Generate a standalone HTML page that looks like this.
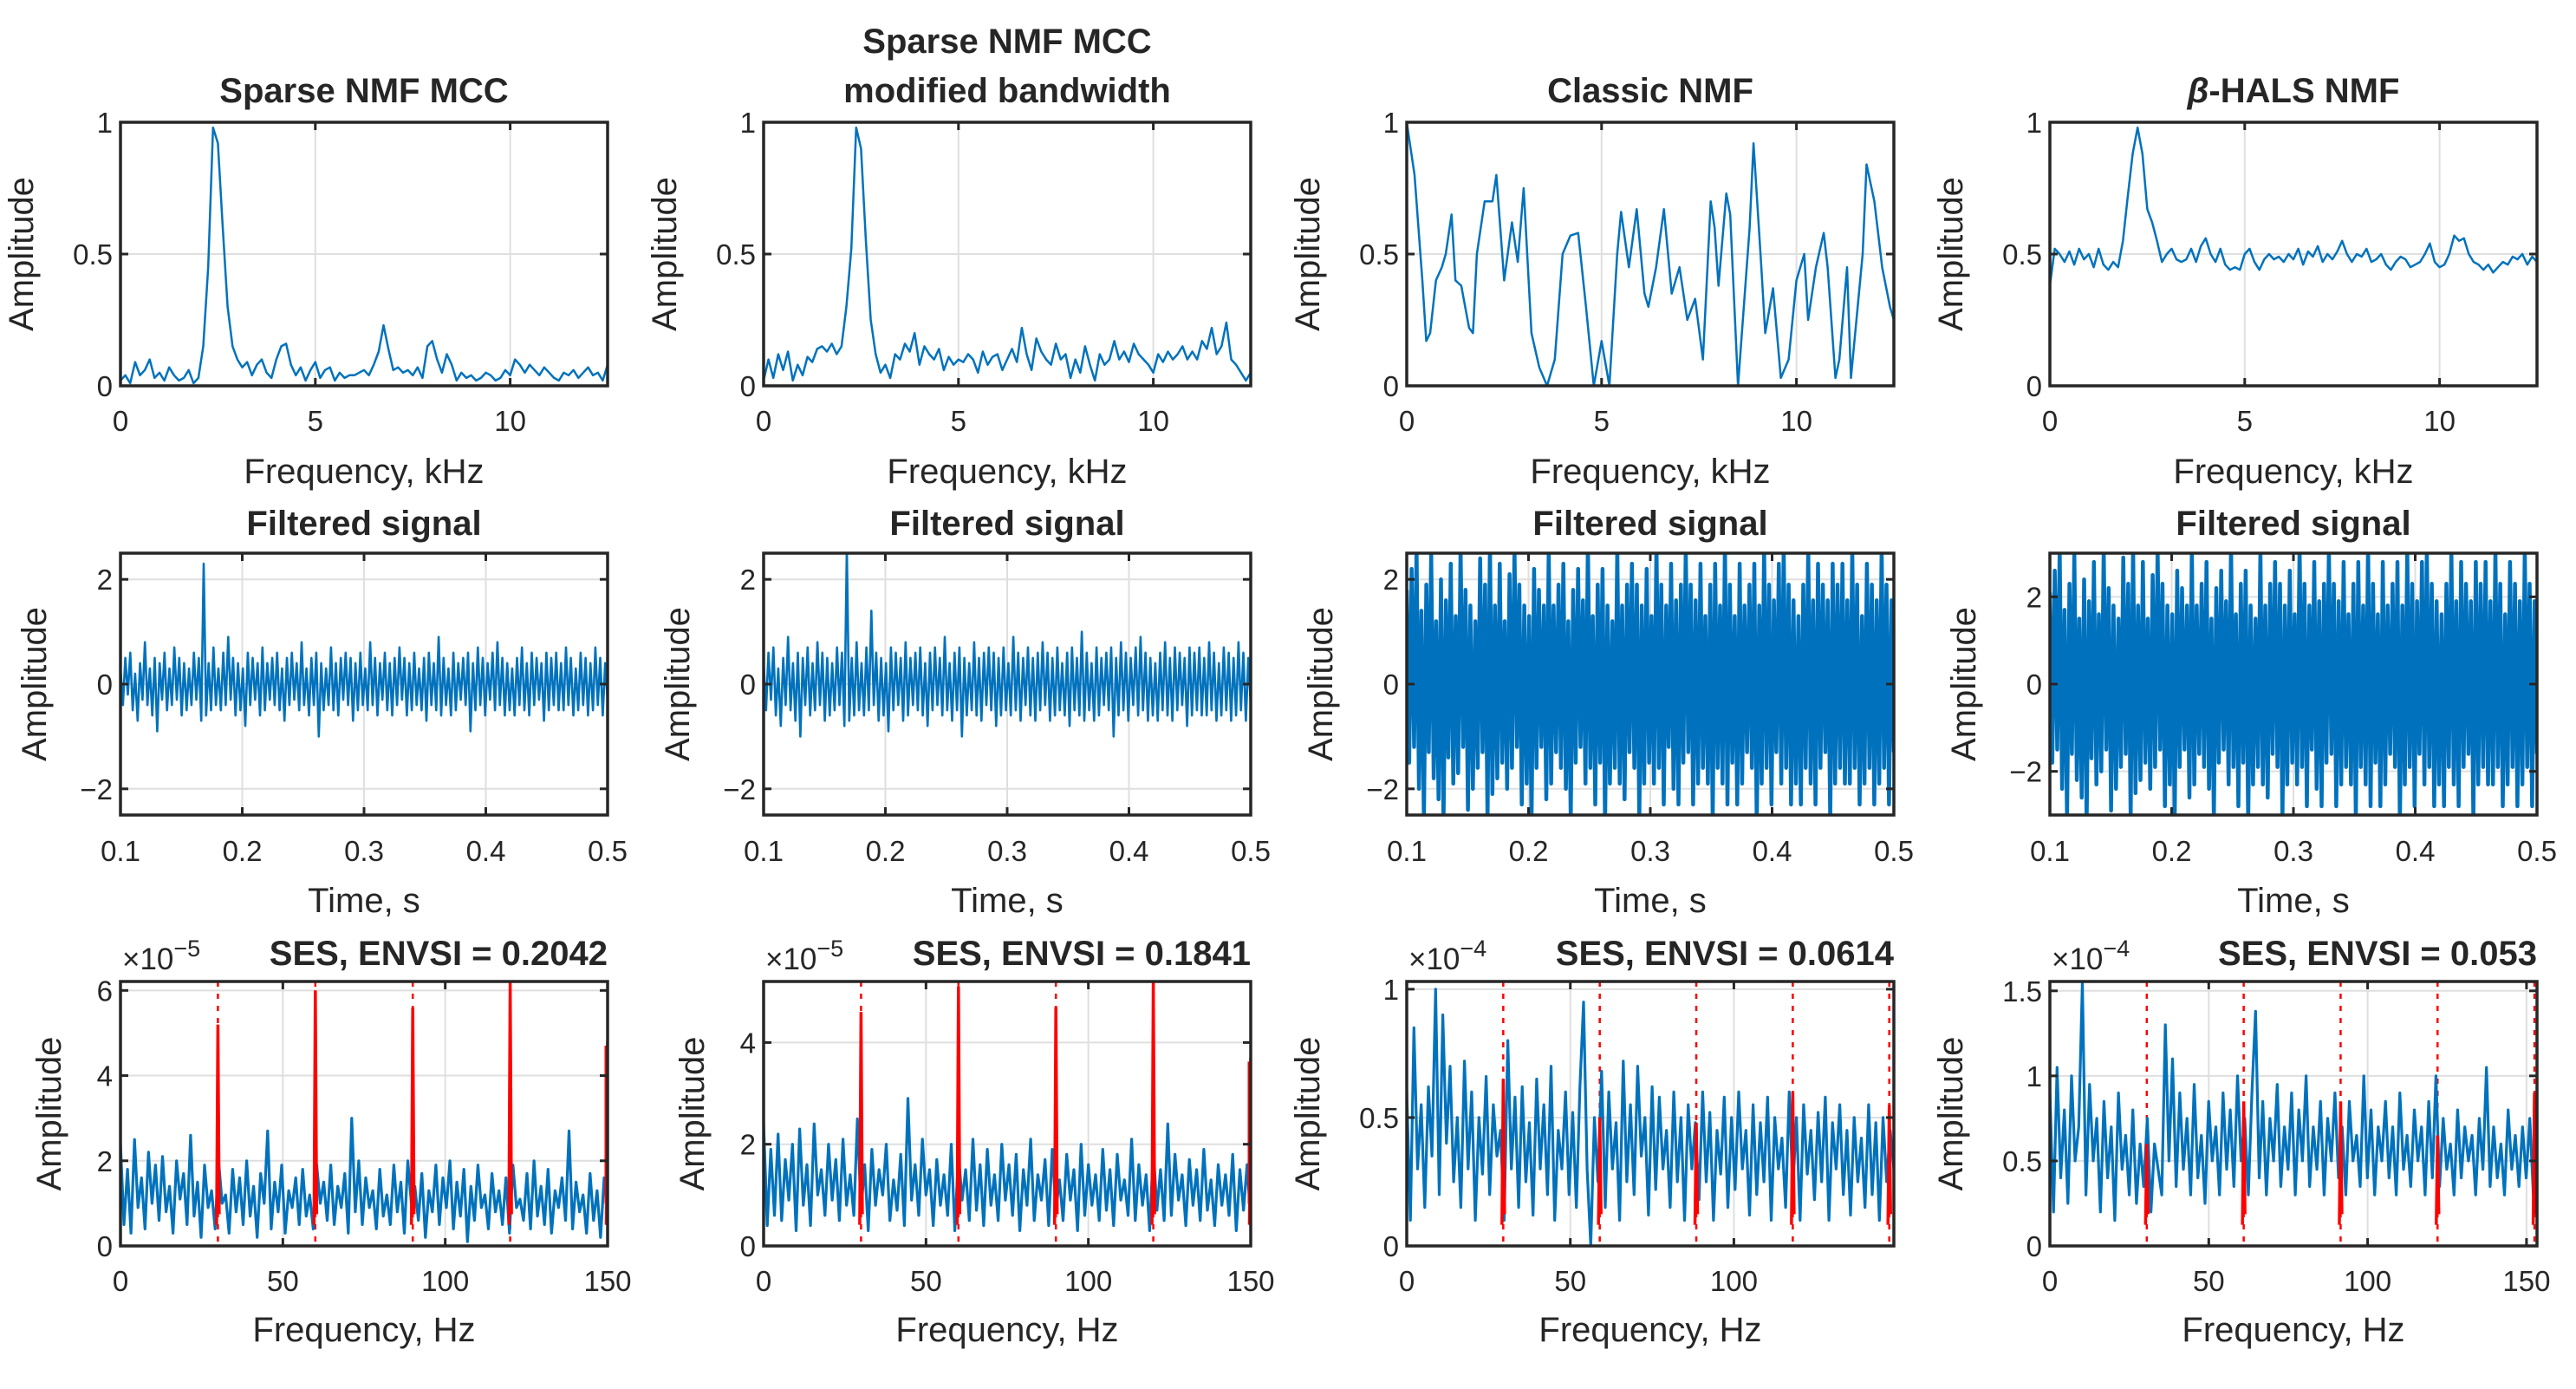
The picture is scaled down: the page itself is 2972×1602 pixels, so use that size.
<!DOCTYPE html>
<html><head><meta charset="utf-8"><style>
html,body{margin:0;padding:0;background:#fff}
svg{display:block}
text{font-family:"Liberation Sans",sans-serif;fill:#262626}
</style></head><body>
<svg id="fig" width="2972" height="1602" viewBox="0 0 2972 1602" xmlns="http://www.w3.org/2000/svg"></svg>
<script>
// ---------- DATA ----------
const spec1=[0.02,0.04,0.01,0.09,0.04,0.06,0.1,0.03,0.05,0.02,0.07,0.04,0.02,0.03,0.06,0.01,0.03,0.15,0.45,0.98,0.92,0.6,0.3,0.15,0.1,0.07,0.09,0.04,0.08,0.1,0.05,0.03,0.1,0.15,0.16,0.08,0.04,0.07,0.02,0.06,0.09,0.03,0.06,0.07,0.02,0.05,0.03,0.04,0.04,0.05,0.06,0.04,0.08,0.13,0.23,0.14,0.06,0.07,0.05,0.06,0.04,0.07,0.03,0.15,0.17,0.1,0.05,0.12,0.08,0.02,0.05,0.03,0.04,0.02,0.03,0.05,0.04,0.02,0.03,0.06,0.04,0.1,0.08,0.05,0.08,0.06,0.04,0.07,0.05,0.03,0.02,0.05,0.04,0.06,0.03,0.05,0.07,0.04,0.05,0.02,0.08];
const spec2=[0.02,0.1,0.03,0.12,0.06,0.13,0.02,0.08,0.04,0.11,0.09,0.14,0.15,0.13,0.16,0.12,0.15,0.3,0.52,0.98,0.9,0.55,0.25,0.12,0.05,0.08,0.03,0.12,0.1,0.16,0.13,0.2,0.08,0.15,0.12,0.1,0.14,0.06,0.11,0.08,0.1,0.09,0.12,0.1,0.05,0.13,0.08,0.11,0.12,0.06,0.1,0.14,0.09,0.22,0.12,0.06,0.18,0.13,0.1,0.08,0.16,0.1,0.12,0.03,0.1,0.05,0.15,0.08,0.02,0.12,0.08,0.1,0.17,0.1,0.13,0.09,0.16,0.12,0.1,0.08,0.05,0.12,0.09,0.13,0.1,0.12,0.15,0.1,0.13,0.1,0.17,0.14,0.22,0.12,0.15,0.24,0.1,0.08,0.05,0.02,0.05];
const classicFreq=[0,0.2,0.4,0.5,0.6,0.75,0.9,1.0,1.15,1.25,1.4,1.6,1.7,1.8,2.0,2.2,2.3,2.5,2.7,2.85,3.0,3.2,3.4,3.6,3.8,4.0,4.2,4.4,4.6,4.8,5.0,5.2,5.4,5.5,5.7,5.9,6.1,6.2,6.4,6.6,6.8,7.0,7.2,7.4,7.6,7.8,7.9,8.0,8.2,8.3,8.5,8.8,8.9,9.1,9.2,9.4,9.6,9.8,10.0,10.2,10.3,10.5,10.7,10.8,11.0,11.1,11.3,11.4,11.7,11.8,12.0,12.2,12.4,12.5];
const classicAmp=[1.0,0.8,0.4,0.17,0.2,0.4,0.45,0.5,0.65,0.4,0.38,0.22,0.2,0.5,0.7,0.7,0.8,0.4,0.62,0.47,0.75,0.2,0.07,0.0,0.1,0.5,0.57,0.58,0.3,0.0,0.17,0.0,0.5,0.66,0.45,0.67,0.35,0.3,0.45,0.67,0.35,0.45,0.25,0.33,0.1,0.7,0.6,0.38,0.73,0.65,0.0,0.6,0.92,0.45,0.2,0.37,0.03,0.1,0.4,0.5,0.25,0.45,0.58,0.45,0.03,0.1,0.45,0.03,0.5,0.84,0.7,0.45,0.3,0.25];
const spec4=[0.38,0.52,0.5,0.47,0.51,0.46,0.52,0.48,0.5,0.45,0.52,0.46,0.44,0.47,0.45,0.55,0.72,0.88,0.98,0.88,0.67,0.62,0.55,0.47,0.5,0.52,0.48,0.47,0.48,0.52,0.47,0.53,0.56,0.5,0.47,0.52,0.46,0.44,0.45,0.44,0.5,0.52,0.47,0.44,0.48,0.5,0.48,0.49,0.47,0.5,0.48,0.52,0.46,0.51,0.49,0.53,0.47,0.5,0.48,0.51,0.55,0.5,0.47,0.5,0.49,0.52,0.47,0.48,0.5,0.46,0.44,0.47,0.49,0.48,0.45,0.46,0.47,0.5,0.54,0.47,0.45,0.46,0.5,0.57,0.55,0.56,0.5,0.47,0.46,0.44,0.46,0.43,0.45,0.47,0.46,0.49,0.48,0.5,0.46,0.49,0.47];

const filt1=[0.3,-0.4,0.5,-0.2,0.6,-0.5,0.2,-0.7,0.4,-0.3,0.8,-0.4,0.3,-0.6,0.5,-0.9,0.4,-0.3,0.6,-0.5,0.3,-0.4,0.7,-0.3,0.5,-0.6,0.4,-0.5,0.3,-0.4,0.6,-0.3,0.5,-0.7,2.3,-0.6,0.4,-0.5,0.7,-0.4,0.3,-0.5,0.6,-0.4,0.9,-0.3,0.5,-0.6,0.4,-0.5,0.3,-0.8,0.6,-0.4,0.5,-0.3,0.4,-0.6,0.7,-0.5,0.4,-0.3,0.5,-0.4,0.6,-0.5,0.3,-0.7,0.5,-0.4,0.6,-0.3,0.4,-0.5,0.8,-0.4,0.3,-0.6,0.5,-0.4,0.6,-1.0,0.4,-0.5,0.3,-0.4,0.7,-0.5,0.4,-0.6,0.5,-0.3,0.6,-0.4,0.5,-0.7,0.4,-0.5,0.6,-0.4,0.3,-0.5,0.8,-0.4,0.5,-0.6,0.4,-0.3,0.6,-0.5,0.4,-0.6,0.5,-0.4,0.7,-0.3,0.5,-0.6,0.4,-0.5,0.6,-0.4,0.3,-0.5,0.5,-0.7,0.6,-0.4,0.4,-0.5,0.9,-0.6,0.5,-0.4,0.3,-0.6,0.6,-0.5,0.4,-0.3,0.5,-0.4,0.6,-0.9,0.4,-0.5,0.7,-0.4,0.5,-0.6,0.4,-0.3,0.6,-0.5,0.8,-0.4,0.5,-0.6,0.4,-0.5,0.3,-0.6,0.5,-0.4,0.7,-0.5,0.4,-0.6,0.6,-0.4,0.5,-0.3,0.4,-0.7,0.6,-0.5,0.5,-0.4,0.6,-0.5,0.4,-0.5,0.7,-0.4,0.5,-0.6,0.3,-0.5,0.6,-0.4,0.5,-0.6,0.4,-0.5,0.7,-0.4,0.5,-0.6,0.4,-0.3];
const filt2=[0.4,-0.5,0.6,-0.3,0.7,-0.6,0.3,-0.8,0.5,-0.4,0.9,-0.5,0.4,-0.7,0.6,-1.0,0.5,-0.4,0.7,-0.6,0.4,-0.5,0.8,-0.4,0.6,-0.7,0.5,-0.6,0.4,-0.5,0.7,-0.4,0.6,-0.8,2.6,-0.7,0.5,-0.6,0.8,-0.5,0.4,-0.6,0.7,-0.5,1.4,-0.4,0.6,-0.7,0.5,-0.6,0.4,-0.9,0.7,-0.5,0.6,-0.4,0.5,-0.7,0.8,-0.6,0.5,-0.4,0.6,-0.5,0.7,-0.6,0.4,-0.8,0.6,-0.5,0.7,-0.4,0.5,-0.6,0.9,-0.5,0.4,-0.7,0.6,-0.5,0.7,-1.0,0.5,-0.6,0.4,-0.5,0.8,-0.6,0.5,-0.7,0.6,-0.4,0.7,-0.5,0.6,-0.8,0.5,-0.6,0.7,-0.5,0.4,-0.6,0.9,-0.5,0.6,-0.7,0.5,-0.4,0.7,-0.6,0.5,-0.7,0.6,-0.5,0.8,-0.4,0.6,-0.7,0.5,-0.6,0.7,-0.5,0.4,-0.6,0.6,-0.8,0.7,-0.5,0.5,-0.6,1.0,-0.7,0.6,-0.5,0.4,-0.7,0.7,-0.6,0.5,-0.4,0.6,-0.5,0.7,-1.0,0.5,-0.6,0.8,-0.5,0.6,-0.7,0.5,-0.4,0.7,-0.6,0.9,-0.5,0.6,-0.7,0.5,-0.6,0.4,-0.7,0.6,-0.5,0.8,-0.6,0.5,-0.7,0.7,-0.5,0.6,-0.4,0.5,-0.8,0.7,-0.6,0.6,-0.5,0.7,-0.6,0.5,-0.6,0.8,-0.5,0.6,-0.7,0.4,-0.6,0.7,-0.5,0.6,-0.7,0.5,-0.6,0.8,-0.5,0.6,-0.7,0.5,-0.4];
const filt3=[1.8,-1.5,2.2,-1.2,2.6,-2.0,1.4,-2.6,1.9,-1.3,2.5,-1.8,1.2,-2.2,2.0,-2.7,1.6,-1.4,2.3,-1.9,1.3,-1.7,2.6,-1.2,1.8,-2.4,1.5,-2.0,1.2,-1.6,2.4,-1.3,1.9,-2.6,2.7,-2.1,1.5,-1.8,2.3,-1.5,1.2,-2.0,2.1,-1.6,2.6,-1.2,1.9,-2.3,1.5,-1.9,1.3,-2.6,2.2,-1.6,1.8,-1.2,1.5,-2.2,2.6,-1.9,1.5,-1.3,1.9,-1.6,2.3,-2.0,1.2,-2.6,1.8,-1.5,2.2,-1.2,1.6,-1.9,2.7,-1.6,1.3,-2.3,1.9,-1.5,2.2,-2.7,1.5,-1.9,1.2,-1.6,2.6,-1.9,1.5,-2.2,1.9,-1.3,2.3,-1.6,1.9,-2.6,1.5,-1.9,2.2,-1.5,1.3,-1.9,2.7,-1.6,1.9,-2.3,1.5,-1.2,2.3,-2.0,1.6,-2.3,1.9,-1.5,2.6,-1.3,1.9,-2.3,1.6,-1.9,2.3,-1.6,1.3,-1.9,1.9,-2.6,2.3,-1.6,1.5,-1.9,2.7,-2.3,1.9,-1.5,1.3,-2.3,2.3,-1.9,1.5,-1.3,1.9,-1.6,2.3,-2.7,1.5,-1.9,2.6,-1.6,1.9,-2.3,1.6,-1.3,2.3,-1.9,2.6,-1.6,1.9,-2.3,1.6,-1.9,1.3,-2.3,1.9,-1.6,2.6,-1.9,1.6,-2.3,2.3,-1.6,1.9,-1.3,1.6,-2.6,2.3,-1.9,1.9,-1.6,2.3,-1.9,1.6,-1.9,2.6,-1.6,1.9,-2.3,1.3,-1.9,2.3,-1.6,1.9,-2.3,1.6,-1.9,2.6,-1.6,1.9,-2.3,1.6,-1.3];
const filt4=[2.1,-1.8,2.6,-1.5,3.1,-2.4,1.7,-3.1,2.3,-1.6,3.0,-2.2,1.5,-2.6,2.4,-3.2,1.9,-1.7,2.8,-2.3,1.6,-2.0,3.1,-1.5,2.2,-2.9,1.8,-2.4,1.5,-1.9,2.9,-1.6,2.3,-3.1,3.2,-2.5,1.8,-2.2,2.8,-1.8,1.5,-2.4,2.5,-1.9,3.1,-1.5,2.3,-2.8,1.8,-2.3,1.6,-3.1,2.6,-1.9,2.2,-1.5,1.8,-2.6,3.1,-2.3,1.8,-1.6,2.3,-1.9,2.8,-2.4,1.5,-3.1,2.2,-1.8,2.6,-1.5,1.9,-2.3,3.2,-1.9,1.6,-2.8,2.3,-1.8,2.6,-3.2,1.8,-2.3,1.5,-1.9,3.1,-2.3,1.8,-2.6,2.3,-1.6,2.8,-1.9,2.3,-3.1,1.8,-2.3,2.6,-1.8,1.6,-2.3,3.2,-1.9,2.3,-2.8,1.8,-1.5,2.8,-2.4,1.9,-2.8,2.3,-1.8,3.1,-1.6,2.3,-2.8,1.9,-2.3,2.8,-1.9,1.6,-2.3,2.3,-3.1,2.8,-1.9,1.8,-2.3,3.2,-2.8,2.3,-1.8,1.6,-2.8,2.8,-2.3,1.8,-1.6,2.3,-1.9,2.8,-3.2,1.8,-2.3,3.1,-1.9,2.3,-2.8,1.9,-1.6,2.8,-2.3,3.1,-1.9,2.3,-2.8,1.9,-2.3,1.6,-2.8,2.3,-1.9,3.1,-2.3,1.9,-2.8,2.8,-1.9,2.3,-1.6,1.9,-3.1,2.8,-2.3,2.3,-1.9,2.8,-2.3,1.9,-2.3,3.1,-1.9,2.3,-2.8,1.6,-2.3,2.8,-1.9,2.3,-2.8,1.9,-2.3,3.1,-1.9,2.3,-2.8,1.9,-1.6];

const ses1=[2.4,0.5,1.8,0.3,2.5,0.9,1.6,0.4,2.2,1.0,1.9,0.6,2.1,0.8,1.4,0.3,2.0,1.1,1.7,0.5,2.6,0.7,1.5,0.2,1.9,0.9,1.3,0.4,2.0,1.0,1.2,0.3,1.8,0.8,1.6,0.5,2.0,0.7,1.4,0.2,1.7,1.0,2.7,0.4,1.5,0.8,1.9,0.3,1.3,0.9,1.6,0.5,1.8,0.7,1.2,0.4,1.9,1.0,1.5,0.6,1.9,0.5,1.4,0.9,1.7,0.3,3.0,0.8,2.0,0.5,1.6,0.9,1.3,0.4,1.8,0.7,1.2,0.5,1.9,0.8,1.5,0.3,2.0,1.0,1.4,0.6,1.7,0.2,1.3,0.8,1.9,0.5,1.6,0.9,2.0,0.4,1.5,0.7,1.8,0.1,1.4,0.6,1.9,0.9,1.2,0.4,1.7,0.8,1.3,0.5,1.6,0.3,1.9,0.9,1.1,0.6,1.7,0.4,2.0,0.7,1.4,0.5,1.8,0.3,1.3,0.9,1.6,0.6,2.7,0.4,1.5,0.8,1.2,0.3,1.7,0.6,1.3,0.2,1.6,0.9];
const ses2=[2.4,0.4,1.9,0.6,2.2,0.5,1.7,0.9,2.0,0.3,2.3,0.8,1.6,0.4,2.4,1.0,1.5,0.6,2.0,0.9,1.7,0.5,2.1,0.8,1.4,0.6,2.5,0.7,1.6,0.3,1.9,0.8,1.5,1.0,2.0,0.5,1.3,0.7,1.8,0.4,2.9,0.9,1.6,0.6,2.1,1.0,1.5,0.4,1.7,0.8,1.4,0.6,2.0,0.3,1.8,0.9,1.5,0.5,2.1,0.7,1.6,0.4,1.9,0.8,1.4,0.5,2.0,0.9,1.6,0.6,1.8,0.3,1.5,0.8,2.1,0.5,1.4,0.9,1.7,0.4,1.9,0.7,1.3,0.5,1.8,0.9,1.5,0.3,2.0,0.6,1.6,0.8,1.4,0.5,1.9,0.7,1.5,0.4,1.8,0.9,1.3,0.6,2.1,0.5,1.6,0.8,1.4,0.3,1.9,0.7,1.5,0.5,2.4,0.6,1.8,0.9,1.4,0.4,1.7,0.8,1.5,0.5,1.9,0.7,1.3,0.4,1.6,0.8,1.4,0.6,1.8,0.3,1.5,0.7,1.6,0.5];
const ses3=[0.6,0.1,0.85,0.3,0.55,0.15,0.62,0.35,1.0,0.2,0.9,0.4,0.7,0.25,0.5,0.15,0.72,0.3,0.6,0.1,0.5,0.28,0.66,0.2,0.55,0.35,0.45,0.1,0.8,0.3,0.58,0.15,0.62,0.25,0.48,0.12,0.65,0.3,0.55,0.2,0.7,0.1,0.45,0.3,0.6,0.2,0.52,0.15,0.62,0.95,0.3,0.0,0.5,0.25,0.68,0.15,0.6,0.3,0.48,0.1,0.72,0.25,0.55,0.2,0.7,0.35,0.5,0.12,0.62,0.22,0.58,0.3,0.45,0.15,0.6,0.25,0.5,0.1,0.55,0.3,0.48,0.18,0.6,0.25,0.52,0.1,0.45,0.28,0.58,0.15,0.5,0.22,0.6,0.3,0.45,0.12,0.55,0.2,0.48,0.25,0.58,0.1,0.5,0.3,0.42,0.15,0.6,0.22,0.5,0.1,0.55,0.28,0.45,0.18,0.52,0.25,0.58,0.1,0.48,0.3,0.55,0.2,0.45,0.12,0.5,0.25,0.42,0.15,0.55,0.2,0.48,0.1,0.5,0.25,0.45,0.3];
const ses4=[0.9,0.2,1.05,0.4,0.8,0.25,1.0,0.5,0.7,1.55,0.3,0.95,0.5,0.75,0.2,0.85,0.4,0.7,0.15,0.9,0.45,0.65,0.3,0.8,0.25,0.6,0.35,0.75,0.2,0.6,0.45,0.3,1.3,0.5,1.1,0.35,0.9,0.45,0.75,0.3,0.95,0.4,0.65,0.25,0.85,0.5,0.7,0.3,0.9,0.45,0.8,0.35,1.0,0.5,0.75,0.3,0.9,1.38,0.4,0.85,0.3,0.75,0.5,0.95,0.35,0.7,0.45,0.9,0.3,0.8,0.5,1.0,0.35,0.7,0.45,0.85,0.3,0.75,0.5,0.9,0.4,0.7,0.3,0.85,0.5,0.65,0.35,1.0,0.4,0.8,0.3,0.7,0.5,0.85,0.4,0.7,0.3,0.9,0.45,0.65,0.35,0.8,0.5,0.7,0.3,0.85,0.4,1.0,0.35,0.75,0.45,0.6,0.3,0.8,0.4,0.7,0.5,0.65,0.3,0.75,0.45,1.05,0.35,0.7,0.4,0.6,0.3,0.8,0.45,0.65,0.35,0.7,0.4,0.75,0.3,0.9];

const harm1Freq=[30,60,90,120,150], harm1Amp=[5.2,6.0,5.6,6.2,4.8];
const harm2Freq=[30,60,90,120,150], harm2Amp=[4.6,5.1,4.7,5.2,3.7];
const harm3Freq=[29.5,59,88.5,118,147.5], harm3Amp=[0.65,0.5,0.48,0.6,0.55];
const harm4Freq=[30.5,61,91.5,122,152.5], harm4Amp=[0.6,0.85,0.85,0.65,0.9];

const yTicksSpec=[0,0.5,1], xTicksSpec=[0,5,10];
const xTicksTime=[0.1,0.2,0.3,0.4,0.5];
const yTicksF=[-2,0,2];
const yTicksS12a=[0,2,4,6], yTicksS12b=[0,2,4];
const yTicksS3=[0,0.5,1], yTicksS4=[0,0.5,1,1.5];
const xTicksHz=[0,50,100,150], xTicksHz3=[0,50,100];

// ---------- RENDER ----------
const NS="http://www.w3.org/2000/svg";
const svg=document.getElementById('fig');
function mk(tag,attrs,parent){const e=document.createElementNS(NS,tag);for(const k in attrs)e.setAttribute(k,attrs[k]);(parent||svg).appendChild(e);return e;}
const lefts=[139,881,1623,2365], W=562;
const rows=[{top:141,bot:445},{top:638,bot:940},{top:1132,bot:1437}];
const BLUE="#0072BD";
let clipId=0;
function fmt(v){return (v<0?'\u2212':'')+String(Math.abs(v));}
function panel(o){
  const L=o.left,R=o.left+W,T=o.top,B=o.bot;
  const sx=v=>L+(v-o.xmin)/(o.xmax-o.xmin)*(R-L);
  const sy=v=>B-(v-o.ymin)/(o.ymax-o.ymin)*(B-T);
  const g=mk('g',{});
  
  
  o.xt.forEach(v=>{const l=mk('line',{x1:sx(v),x2:sx(v),y1:T,y2:B,stroke:'#dfdfdf','stroke-width':2},g);});
  o.yt.forEach(v=>{const l=mk('line',{x1:L,x2:R,y1:sy(v),y2:sy(v),stroke:'#dfdfdf','stroke-width':2},g);});
  const cid='c'+(clipId++);
  const cp=mk('clipPath',{id:cid},g);mk('rect',{x:L,y:T,width:W,height:B-T},cp);
  const plot=mk('g',{'clip-path':'url(#'+cid+')'},g);
  if(o.hf){
    o.hf.forEach((f,i)=>{
      const d=mk('line',{x1:sx(f),x2:sx(f),y1:T,y2:B,stroke:'#ff0000','stroke-width':2.5,'stroke-dasharray':'6,8'},plot);
      
    });
  }
  const xs=o.xs||o.ys.map((_,i)=>o.xmin+(o.xmax-o.xmin)*i/(o.ys.length-1));
  const pts=o.ys.map((v,i)=>sx(xs[i]).toFixed(1)+','+sy(v).toFixed(1)).join(' ');
  const pl=mk('polyline',{points:pts,fill:'none',stroke:BLUE,'stroke-width':o.lw||2.5,'stroke-linejoin':'round'},plot);
  
  if(o.hf){
    o.hf.forEach((f,i)=>{
      const base=o.ymin+(o.ymax-o.ymin)*0.08;
      const s=mk('polyline',{points:[sx(f-0.4)+','+sy(base),sx(f)+','+sy(o.ha[i]),sx(f+0.4)+','+sy(base*1.5)].join(' '),fill:'none',stroke:'#ff0000','stroke-width':3.5},plot);
      
      if(f>=o.xmax-1){
        const s2=mk('line',{x1:R-2,x2:R-2,y1:sy(base*2),y2:sy(o.ha[i]*0.98),stroke:'#ff0000','stroke-width':3},plot);
        
      }
    });
  }
  const bx=mk('rect',{x:L,y:T,width:W,height:B-T,fill:'none',stroke:'#262626','stroke-width':3.5},g);
  
  o.xt.forEach(v=>{
    mk('line',{x1:sx(v),x2:sx(v),y1:B,y2:B-9,stroke:'#262626','stroke-width':3},g);
    mk('line',{x1:sx(v),x2:sx(v),y1:T,y2:T+9,stroke:'#262626','stroke-width':3},g);
    const t=mk('text',{x:sx(v),y:o.xtb,'text-anchor':'middle','font-size':33},g);t.textContent=fmt(v);
    
  });
  o.yt.forEach(v=>{
    mk('line',{x1:L,x2:L+9,y1:sy(v),y2:sy(v),stroke:'#262626','stroke-width':3},g);
    mk('line',{x1:R,x2:R-9,y1:sy(v),y2:sy(v),stroke:'#262626','stroke-width':3},g);
    const t=mk('text',{x:L-9,y:sy(v)+12,'text-anchor':'end','font-size':33},g);t.textContent=fmt(v);
    
  });
  const xl=mk('text',{x:(L+R)/2,y:o.xlb,'text-anchor':'middle','font-size':40},g);xl.textContent=o.xlabel;
  
  const yx=L-o.ylo, yc=(T+B)/2;
  const yl=mk('text',{x:yx,y:yc,'text-anchor':'middle','font-size':40,transform:'rotate(-90 '+yx+' '+yc+')'},g);yl.textContent='Amplitude';
  
  if(o.exp){
    const e=mk('text',{x:L+2,y:T-14,'font-size':35},g);
    e.innerHTML='\u00d710<tspan dy="-15" font-size="27">\u2212'+o.exp+'</tspan>';
    
  }
  return g;
}
function title(lines,x,anchor,baseY,name){
  lines.forEach((s,i)=>{
    const t=mk('text',{x:x,y:baseY[i],'text-anchor':anchor,'font-size':40,'font-weight':'bold'});
    t.innerHTML=s;
    
    
  });
}
const r1=rows[0];
const specs=[{ys:spec1},{ys:spec2},{ys:classicAmp,xs:classicFreq},{ys:spec4}];
specs.forEach((s,i)=>panel(Object.assign({name:'spectrum-panel-'+(i+1),left:lefts[i],top:r1.top,bot:r1.bot,xmin:0,xmax:12.5,ymin:0,ymax:1,xt:xTicksSpec,yt:yTicksSpec,xtb:497,xlb:557,xlabel:'Frequency, kHz',ylo:101},s)));
title(['Sparse NMF MCC'],lefts[0]+W/2,'middle',[118],'panel-title');
title(['Sparse NMF MCC','modified bandwidth'],lefts[1]+W/2,'middle',[61,118],'panel-title');
title(['Classic NMF'],lefts[2]+W/2,'middle',[118],'panel-title');
title(['<tspan font-style="italic">\u03b2</tspan>-HALS NMF'],lefts[3]+W/2,'middle',[118],'panel-title');
const r2=rows[1];
const filts=[filt1,filt2,filt3,filt4], flim=[2.5,2.5,2.5,3];
filts.forEach((f,i)=>{panel({name:'filtered-signal-panel-'+(i+1),left:lefts[i],top:r2.top,bot:r2.bot,xmin:0.1,xmax:0.5,ymin:-flim[i],ymax:flim[i],xt:xTicksTime,yt:yTicksF,xtb:993,xlb:1052,xlabel:'Time, s',ylo:86,ys:f,lw:i<2?2.6:4.5});
  title(['Filtered signal'],lefts[i]+W/2,'middle',[617],'panel-title');});
const r3=rows[2];
const sesCfg=[
 {ys:ses1,xmax:150,ymax:6.21,yt:yTicksS12a,xt:xTicksHz,hf:harm1Freq,ha:harm1Amp,exp:'5',ylo:69,tt:'SES, ENVSI = 0.2042'},
 {ys:ses2,xmax:150,ymax:5.2,yt:yTicksS12b,xt:xTicksHz,hf:harm2Freq,ha:harm2Amp,exp:'5',ylo:69,tt:'SES, ENVSI = 0.1841'},
 {ys:ses3,xmax:148.9,ymax:1.03,yt:yTicksS3,xt:xTicksHz3,hf:harm3Freq,ha:harm3Amp,exp:'4',ylo:101,tt:'SES, ENVSI = 0.0614'},
 {ys:ses4,xmax:153.3,ymax:1.555,yt:yTicksS4,xt:xTicksHz,hf:harm4Freq,ha:harm4Amp,exp:'4',ylo:101,tt:'SES, ENVSI = 0.053'}];
sesCfg.forEach((c,i)=>{panel(Object.assign({name:'ses-panel-'+(i+1),left:lefts[i],top:r3.top,bot:r3.bot,xmin:0,ymin:0,xtb:1489,xlb:1547,xlabel:'Frequency, Hz',lw:3.2},c));
  title([c.tt],lefts[i]+W,'end',[1113],'panel-title');});
</script>
</body></html>
